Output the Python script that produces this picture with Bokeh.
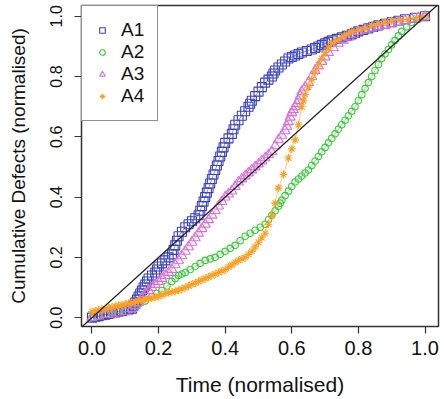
from bokeh.plotting import figure
from bokeh.models import Range1d, Slope, Legend, LegendItem, FixedTicker
from bokeh.embed import file_html
from bokeh.resources import INLINE

# ---------------- data ----------------
SERIES = ["A1", "A2", "A3", "A4"]

A1_X = [0.00, 0.01, 0.02, 0.03, 0.04, 0.05, 0.06, 0.07, 0.08, 0.09, 0.10, 0.11, 0.12, 0.125,
        0.13, 0.135, 0.14, 0.145, 0.15, 0.155, 0.16, 0.165, 0.17, 0.18, 0.19, 0.195, 0.20, 0.21,
        0.22, 0.23, 0.24, 0.245, 0.25, 0.255, 0.26, 0.27, 0.28, 0.29, 0.30, 0.31, 0.32, 0.325,
        0.33, 0.335, 0.34, 0.345, 0.35, 0.355, 0.36, 0.365, 0.37, 0.375, 0.38, 0.385, 0.39, 0.395,
        0.40, 0.41, 0.42, 0.425, 0.43, 0.44, 0.45, 0.46, 0.47, 0.475, 0.48, 0.49, 0.50, 0.51,
        0.52, 0.53, 0.54, 0.545, 0.55, 0.56, 0.57, 0.58, 0.59, 0.60, 0.61, 0.62, 0.63, 0.645,
        0.66, 0.67, 0.68, 0.69, 0.70, 0.71, 0.72, 0.735, 0.75, 0.765, 0.78, 0.79, 0.80, 0.815,
        0.83, 0.845, 0.86, 0.88, 0.90, 0.92, 0.94, 0.97, 1.00]
A1_Y = [0.000, 0.003, 0.005, 0.008, 0.010, 0.012, 0.015, 0.017, 0.020, 0.022, 0.025, 0.027, 0.030, 0.04,
        0.05, 0.06, 0.07, 0.08, 0.09, 0.10, 0.11, 0.12, 0.13, 0.14, 0.15, 0.16, 0.17, 0.18,
        0.19, 0.20, 0.21, 0.225, 0.24, 0.255, 0.27, 0.285, 0.30, 0.31, 0.32, 0.33, 0.34, 0.355,
        0.37, 0.385, 0.40, 0.415, 0.43, 0.445, 0.46, 0.475, 0.49, 0.505, 0.52, 0.535, 0.55, 0.565,
        0.58, 0.595, 0.61, 0.625, 0.64, 0.655, 0.67, 0.685, 0.70, 0.71, 0.72, 0.735, 0.75, 0.765,
        0.78, 0.79, 0.80, 0.81, 0.82, 0.83, 0.84, 0.85, 0.86, 0.865, 0.87, 0.875, 0.88, 0.885,
        0.89, 0.895, 0.90, 0.905, 0.91, 0.915, 0.92, 0.925, 0.93, 0.935, 0.94, 0.945, 0.95, 0.955,
        0.96, 0.965, 0.97, 0.975, 0.98, 0.985, 0.99, 0.995, 1.00]

A2_X = [0.00, 0.02, 0.04, 0.06, 0.08, 0.10, 0.12, 0.14, 0.16, 0.18, 0.195, 0.21, 0.225, 0.24,
        0.25, 0.26, 0.27, 0.28, 0.295, 0.31, 0.325, 0.34, 0.355, 0.37, 0.385, 0.40, 0.415, 0.43,
        0.445, 0.46, 0.475, 0.49, 0.505, 0.52, 0.53, 0.54, 0.55, 0.56, 0.565, 0.57, 0.58, 0.59,
        0.60, 0.61, 0.62, 0.63, 0.64, 0.65, 0.66, 0.67, 0.68, 0.69, 0.70, 0.71, 0.72, 0.73,
        0.74, 0.75, 0.76, 0.77, 0.78, 0.79, 0.80, 0.81, 0.82, 0.83, 0.84, 0.85, 0.86, 0.87,
        0.88, 0.89, 0.90, 0.91, 0.92, 0.93, 0.945, 0.96, 0.98, 1.00]
A2_Y = [0.00, 0.005, 0.012, 0.02, 0.025, 0.03, 0.04, 0.045, 0.055, 0.07, 0.08, 0.09, 0.105, 0.12,
        0.13, 0.14, 0.145, 0.15, 0.16, 0.17, 0.18, 0.19, 0.195, 0.20, 0.21, 0.22, 0.23, 0.24,
        0.255, 0.27, 0.28, 0.29, 0.30, 0.31, 0.325, 0.34, 0.355, 0.37, 0.38, 0.39, 0.405, 0.42,
        0.435, 0.45, 0.46, 0.47, 0.48, 0.49, 0.505, 0.52, 0.535, 0.55, 0.565, 0.58, 0.595, 0.61,
        0.625, 0.64, 0.655, 0.67, 0.685, 0.70, 0.72, 0.74, 0.76, 0.78, 0.80, 0.82, 0.84, 0.86,
        0.875, 0.89, 0.905, 0.92, 0.935, 0.95, 0.965, 0.98, 0.99, 1.00]

A3_X = [0.00, 0.02, 0.04, 0.06, 0.08, 0.10, 0.12, 0.13, 0.14, 0.15, 0.16, 0.17, 0.18, 0.19,
        0.20, 0.21, 0.22, 0.23, 0.24, 0.25, 0.26, 0.27, 0.28, 0.29, 0.30, 0.31, 0.32, 0.33,
        0.34, 0.35, 0.36, 0.37, 0.38, 0.39, 0.40, 0.41, 0.42, 0.43, 0.44, 0.45, 0.46, 0.47,
        0.48, 0.49, 0.50, 0.51, 0.52, 0.53, 0.54, 0.55, 0.56, 0.57, 0.58, 0.585, 0.59, 0.595,
        0.60, 0.605, 0.61, 0.615, 0.62, 0.625, 0.63, 0.64, 0.65, 0.66, 0.67, 0.68, 0.69, 0.70,
        0.71, 0.725, 0.74, 0.755, 0.77, 0.785, 0.80, 0.82, 0.84, 0.86, 0.88, 0.90, 0.92, 0.94,
        0.96, 0.98, 1.00]
A3_Y = [0.00, 0.005, 0.01, 0.01, 0.015, 0.02, 0.03, 0.04, 0.05, 0.065, 0.08, 0.09, 0.10, 0.11,
        0.12, 0.13, 0.14, 0.15, 0.16, 0.175, 0.19, 0.205, 0.22, 0.235, 0.25, 0.265, 0.28, 0.295,
        0.31, 0.325, 0.34, 0.355, 0.37, 0.385, 0.40, 0.41, 0.42, 0.435, 0.45, 0.46, 0.47, 0.48,
        0.49, 0.50, 0.51, 0.52, 0.53, 0.54, 0.55, 0.57, 0.59, 0.605, 0.62, 0.635, 0.65, 0.665,
        0.68, 0.69, 0.70, 0.71, 0.72, 0.735, 0.75, 0.765, 0.78, 0.80, 0.82, 0.835, 0.85, 0.865,
        0.88, 0.895, 0.91, 0.92, 0.93, 0.94, 0.95, 0.955, 0.96, 0.965, 0.97, 0.975, 0.98, 0.985,
        0.99, 0.995, 1.00]

A4_X = [0.00, 0.01, 0.02, 0.03, 0.04, 0.05, 0.06, 0.07, 0.08, 0.09, 0.10, 0.11, 0.12, 0.13,
        0.14, 0.15, 0.16, 0.17, 0.18, 0.19, 0.20, 0.21, 0.22, 0.23, 0.24, 0.25, 0.26, 0.27,
        0.28, 0.29, 0.30, 0.31, 0.32, 0.33, 0.34, 0.35, 0.36, 0.37, 0.38, 0.39, 0.40, 0.41,
        0.42, 0.43, 0.44, 0.45, 0.46, 0.47, 0.48, 0.49, 0.50, 0.51, 0.52, 0.53, 0.54, 0.55,
        0.56, 0.575, 0.59, 0.60, 0.61, 0.62, 0.63, 0.635, 0.64, 0.65, 0.66, 0.67, 0.68, 0.69,
        0.70, 0.71, 0.72, 0.735, 0.75, 0.765, 0.78, 0.80, 0.82, 0.84, 0.86, 0.88, 0.90, 0.925,
        0.95, 0.975, 1.00]
A4_Y = [0.020, 0.022, 0.025, 0.028, 0.030, 0.033, 0.035, 0.038, 0.040, 0.043, 0.045, 0.048, 0.050, 0.053,
        0.055, 0.058, 0.060, 0.063, 0.065, 0.068, 0.070, 0.075, 0.080, 0.083, 0.085, 0.088, 0.090, 0.095,
        0.100, 0.105, 0.110, 0.115, 0.120, 0.125, 0.130, 0.135, 0.140, 0.145, 0.150, 0.155, 0.160, 0.168,
        0.175, 0.183, 0.190, 0.195, 0.200, 0.210, 0.220, 0.235, 0.250, 0.265, 0.280, 0.310, 0.340, 0.380,
        0.430, 0.475, 0.530, 0.560, 0.590, 0.640, 0.700, 0.720, 0.740, 0.765, 0.790, 0.815, 0.840, 0.860,
        0.880, 0.895, 0.910, 0.920, 0.930, 0.940, 0.950, 0.955, 0.960, 0.970, 0.975, 0.980, 0.985, 0.988,
        0.990, 0.995, 1.000]

TICKS = [0.0, 0.2, 0.4, 0.6, 0.8, 1.0]
TICK_LABELS = ["0.0", "0.2", "0.4", "0.6", "0.8", "1.0"]
X_LABEL = "Time (normalised)"
Y_LABEL = "Cumulative Defects (normalised)"

# ---------------- styling ----------------
BLUE = "#3a42b8"
GREEN = "#3cc83c"
VIOLET = "#d672d6"
ORANGE = "#ffa024"
FONT = "Liberation Sans"

p = figure(width=440, height=398,
           x_range=Range1d(-0.0315, 1.0405), y_range=Range1d(-0.0293, 1.0358),
           output_backend="svg", toolbar_location=None,
           min_border_left=81, min_border_right=2, min_border_top=5, min_border_bottom=66,
           x_axis_label=X_LABEL, y_axis_label=Y_LABEL)
p.grid.visible = False
p.outline_line_color = "#333333"
p.outline_line_width = 1.5
p.background_fill_color = "white"
p.border_fill_color = "white"

overrides = {t: l for t, l in zip(TICKS, TICK_LABELS)}
for ax in (p.xaxis[0], p.yaxis[0]):
    ax.ticker = FixedTicker(ticks=TICKS)
    ax.major_label_overrides = overrides
    ax.axis_line_color = None
    ax.major_tick_in = 0
    ax.major_tick_out = 7
    ax.major_tick_line_color = "#333333"
    ax.major_tick_line_width = 1.2
    ax.minor_tick_line_color = None
    ax.major_label_text_font = FONT
    ax.major_label_text_color = "#111111"
    ax.axis_label_text_font = FONT
    ax.axis_label_text_color = "#111111"
    ax.axis_label_text_font_style = "normal"

p.xaxis[0].major_label_text_font_size = "20px"
p.xaxis[0].major_label_standoff = 7
p.xaxis[0].axis_label_text_font_size = "21px"
p.xaxis[0].axis_label_standoff = 15

p.yaxis[0].major_label_text_font_size = "16px"
p.yaxis[0].major_label_orientation = "vertical"
p.yaxis[0].major_label_standoff = 12
p.yaxis[0].axis_label_text_font_size = "19px"
p.yaxis[0].axis_label_standoff = 19

xs = [A1_X, A2_X, A3_X, A4_X]
ys = [A1_Y, A2_Y, A3_Y, A4_Y]
colors = [BLUE, GREEN, VIOLET, ORANGE]
markers = ["square", "circle", "triangle", "asterisk"]
sizes = [9, 6.5, 10, 8]

for x, y, c in zip(xs, ys, colors):
    p.line(x, y, line_color=c, line_width=0.8, line_alpha=0.7)

items = []
for name, x, y, c, m, s in zip(SERIES, xs, ys, colors, markers, sizes):
    r = p.scatter(x, y, marker=m, size=s, fill_color=None, line_color=c, line_width=1.1)
    items.append(LegendItem(label=name, renderers=[r]))

p.add_layout(Slope(gradient=1, y_intercept=0, line_color="#222222", line_width=1.2))

legend = Legend(items=items, location="top_left", margin=0, padding=13, spacing=0,
                glyph_width=14, glyph_height=22, label_height=22, label_standoff=12,
                label_text_font=FONT, label_text_font_size="19px", label_text_color="#111111",
                border_line_color="#222222", border_line_width=1.2,
                background_fill_color="white", background_fill_alpha=1.0)
p.add_layout(legend)

open("out.html", "w").write(file_html(p, INLINE))
